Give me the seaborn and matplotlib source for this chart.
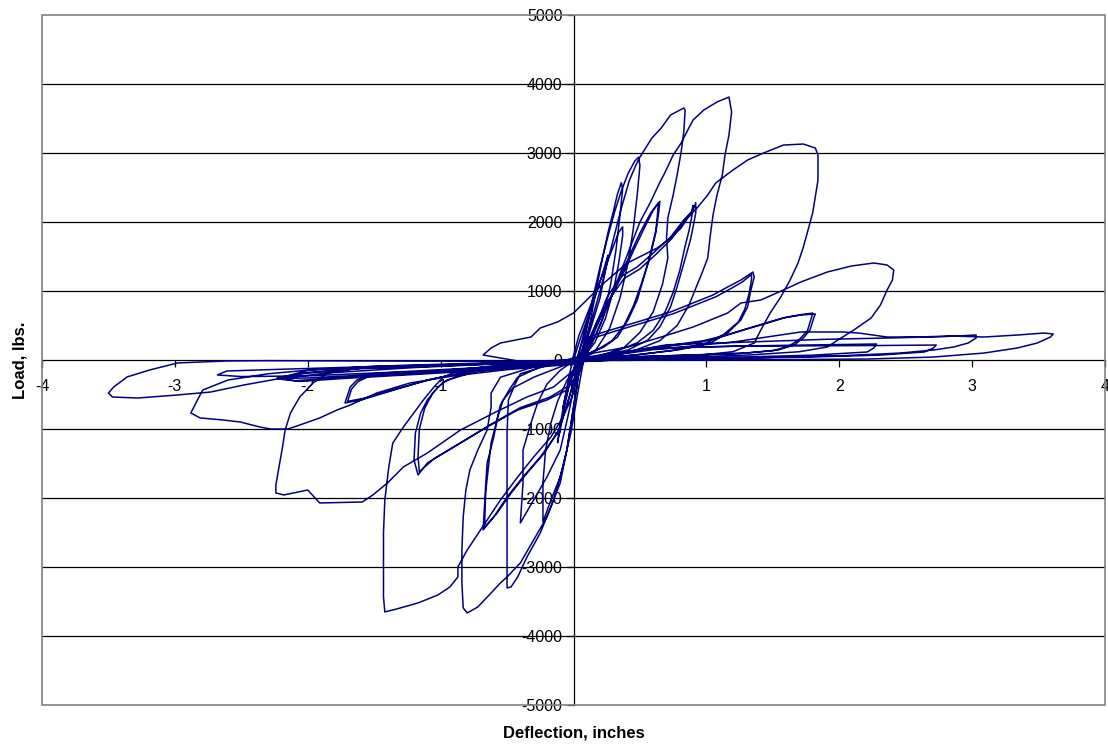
import numpy as np
import pandas as pd
import matplotlib
matplotlib.use("Agg")
import matplotlib.pyplot as plt
from matplotlib.patches import Rectangle
import seaborn as sns

# Cyclic racking test: deflection (in) vs. load (lbs), recorded cycle by cycle.
cycle_a_x = [-0.02, 0.04, 0.10, 0.15, 0.14, 0.08, 0.03, -0.03, -0.08, -0.07, -0.02, 0.03]
cycle_a_y = [-80, 350, 650, 900, 800, 350, 40, -350, -700, -600, -250, 30]

cycle_b_x = [0.03, 0.08, 0.15, 0.21, 0.26, 0.25, 0.20, 0.12, 0.06, -0.02, -0.07, -0.12, -0.11, -0.06, -0.02]
cycle_b_y = [30, 400, 850, 1200, 1520, 1400, 900, 400, 130, -250, -700, -1200, -1050, -500, -120]

cycle_c_x = [-0.02, 0.05, 0.14, 0.22, 0.29, 0.34, 0.37, 0.37, 0.34, 0.30, 0.24, 0.16, 0.09, 0.04,
             -0.05, -0.12, -0.17, -0.21, -0.23, -0.23, -0.17, -0.10, -0.05, -0.01, 0.03, 0.07]
cycle_c_y = [-120, 300, 800, 1250, 1600, 1850, 1930, 1800, 1400, 1000, 600, 250, 80, -20,
             -300, -600, -913, -1304, -1782, -2347, -2029, -1695, -1304, -800, -300, 60]

cycle_d_x = [0.07, 0.11, 0.16, 0.21, 0.26, 0.30, 0.33, 0.36, 0.37, 0.35, 0.32, 0.28, 0.22, 0.14, 0.06, -0.02,
             -0.10, -0.20, -0.27, -0.32, -0.38, -0.38, -0.40, -0.30, -0.20, -0.10, -0.04, 0.01, 0.05]
cycle_d_y = [60, 400, 900, 1400, 1850, 2150, 2400, 2570, 2480, 2100, 1600, 1100, 600, 250, 50, -40,
             -150, -350, -623, -913, -1304, -1782, -2362, -2029, -1695, -1304, -800, -350, 20]

cycle_e_x = [0.05, 0.09, 0.14, 0.20, 0.26, 0.31, 0.36, 0.41, 0.46, 0.49, 0.50, 0.48, 0.45, 0.41, 0.35, 0.27, 0.17, 0.05,
             -0.10, -0.30, -0.45, -0.49, -0.50, -0.50, -0.50, -0.50, -0.47, -0.42, -0.35, -0.25, -0.15, -0.08, -0.02, 0.03, 0.08]
cycle_e_y = [20, 350, 850, 1350, 1800, 2150, 2450, 2700, 2880, 2940, 2820, 2400, 1900, 1400, 900, 450, 150, 20,
             -100, -250, -400, -580, -1058, -1782, -2507, -3304, -3289, -3144, -2854, -2507, -2029, -1550, -1058, -500, 40]

cycle_f_x = [0.08, 0.12, 0.18, 0.28, 0.35, 0.43, 0.50, 0.58, 0.64, 0.63, 0.62, 0.58, 0.53, 0.48, 0.41, 0.33, 0.23, 0.10, 0.00,
             -0.20, -0.40, -0.45, -0.53, -0.57, -0.60, -0.65, -0.66, -0.68, -0.60, -0.50, -0.38, -0.25, -0.12, -0.04, 0.02, 0.06]
cycle_f_y = [40, 300, 580, 910, 1200, 1550, 1840, 2130, 2280, 2070, 1880, 1550, 1200, 870, 580, 330, 190, 80, 30,
             -80, -200, -391, -580, -826, -1116, -1492, -1782, -2463, -2275, -1985, -1695, -1406, -1058, -600, -200, 0]

cycle_f2_x = [0.06, 0.12, 0.20, 0.30, 0.38, 0.46, 0.53, 0.60, 0.65, 0.64, 0.62, 0.57, 0.51, 0.45, 0.38, 0.29, 0.18, 0.05,
              -0.25, -0.42, -0.48, -0.55, -0.58, -0.62, -0.64, -0.66, -0.67, -0.58, -0.47, -0.35, -0.22, -0.10, -0.02, 0.04]
cycle_f2_y = [0, 320, 620, 980, 1280, 1620, 1900, 2170, 2300, 2120, 1850, 1450, 1100, 780, 500, 280, 150, 40,
              -100, -250, -420, -650, -900, -1200, -1550, -1900, -2420, -2230, -1930, -1640, -1350, -980, -450, -60]

cycle_g_x = [0.04, 0.11, 0.20, 0.28, 0.36, 0.42, 0.47, 0.50, 0.59, 0.66, 0.73, 0.83, 0.84, 0.83, 0.81, 0.78, 0.75, 0.71,
             0.70, 0.71, 0.67, 0.60, 0.50, 0.38, 0.20, 0.02,
             -0.30, -0.55, -0.62, -0.62, -0.65, -0.72, -0.78, -0.81, -0.83, -0.84, -0.84, -0.83, -0.80, -0.72, -0.62,
             -0.55, -0.50, -0.40, -0.30, -0.20, -0.10, -0.05, 0.00, 0.04, 0.09]
cycle_g_y = [-60, 400, 1000, 1600, 2200, 2600, 2826, 2941, 3217, 3362, 3550, 3652, 3623, 3304, 3014, 2681, 2391, 2058,
             1768, 1478, 1100, 700, 400, 180, 60, 10,
             -100, -250, -478, -681, -1014, -1304, -1594, -1884, -2275, -2753, -3231, -3593, -3666, -3579, -3376,
             -3231, -3144, -2941, -2608, -2275, -1782, -1304, -700, -200, 50]

cycle_h_x = [0.09, 0.15, 0.25, 0.35, 0.48, 0.60, 0.73, 0.83, 0.90, 0.92, 0.92, 0.90, 0.88, 0.83, 0.78, 0.73, 0.65, 0.56, 0.41, 0.20, 0.00,
             -0.30, -0.70, -0.95, -1.02, -1.10, -1.15, -1.19, -1.20, -1.17, -1.10, -0.90, -0.65, -0.42, -0.20, -0.05, 0.03, 0.08]
cycle_h_y = [50, 400, 900, 1200, 1350, 1550, 1780, 2030, 2170, 2280, 2130, 1930, 1740, 1400, 1060, 770, 480, 290, 145, 60, 0,
             -60, -150, -290, -391, -580, -768, -1058, -1449, -1666, -1492, -1261, -971, -725, -580, -435, -200, 0]

cycle_h2_x = [0.08, 0.16, 0.27, 0.38, 0.50, 0.62, 0.74, 0.83, 0.89, 0.90, 0.89, 0.87, 0.84, 0.80, 0.75, 0.69, 0.60, 0.48, 0.30, 0.05,
              -0.40, -0.80, -0.98, -1.06, -1.12, -1.16, -1.17, -1.16, -1.05, -0.85, -0.62, -0.40, -0.18, -0.04, 0.05]
cycle_h2_y = [0, 420, 880, 1180, 1320, 1530, 1760, 2000, 2150, 2240, 2080, 1880, 1650, 1300, 980, 700, 430, 250, 110, 20,
              -80, -180, -320, -480, -700, -1000, -1400, -1620, -1430, -1200, -930, -690, -540, -380, 0]

cycle_i_x = [0.08, 0.20, 0.32, 0.42, 0.50, 0.58, 0.64, 0.69, 0.75, 0.81, 0.86, 0.90, 0.98, 1.08, 1.17, 1.19, 1.17, 1.14,
             1.12, 1.08, 1.05, 1.03, 1.01, 0.97, 0.93, 0.87, 0.78, 0.65, 0.45, 0.20, -0.10,
             -0.50, -0.85, -0.98, -1.05, -1.13, -1.28, -1.36, -1.39, -1.42, -1.43, -1.43, -1.43, -1.42, -1.33, -1.17,
             -1.02, -0.93, -0.87, -0.87, -0.80, -0.70, -0.55, -0.42, -0.30, -0.17, -0.08, -0.02, 0.03, 0.08]
cycle_i_y = [0, 500, 1100, 1600, 2000, 2290, 2536, 2724, 2970, 3144, 3333, 3478, 3622, 3739, 3811, 3594, 3260, 2970,
             2681, 2391, 2101, 1811, 1478, 1275, 1087, 800, 500, 280, 130, 40, -20,
             -60, -140, -246, -391, -580, -971, -1203, -1550, -2029, -2507, -2999, -3434, -3651, -3608, -3521,
             -3405, -3289, -3144, -2999, -2753, -2463, -2029, -1695, -1406, -1116, -826, -580, -250, 0]

cycle_j_x = [0.08, 0.11, 0.28, 0.53, 0.73, 0.90, 1.05, 1.16, 1.26, 1.35, 1.36, 1.33, 1.31, 1.26, 1.16, 1.03, 0.80, 0.50, 0.20, -0.20,
             -0.60, -1.10, -1.48, -1.63, -1.68, -1.72, -1.60, -1.35, -1.10, -0.85, -0.50, -0.20, 0.05]
cycle_j_y = [0, 333, 435, 580, 696, 826, 942, 1058, 1159, 1275, 1203, 971, 768, 580, 391, 246, 150, 80, 30, -40,
             -100, -170, -188, -290, -391, -623, -580, -435, -290, -188, -120, -60, 0]

cycle_j2_x = [0.05, 0.12, 0.30, 0.55, 0.75, 0.92, 1.07, 1.18, 1.27, 1.34, 1.34, 1.32, 1.29, 1.24, 1.13, 0.98, 0.75, 0.45, 0.15, -0.25,
              -0.70, -1.20, -1.50, -1.62, -1.67, -1.70, -1.58, -1.32, -1.05, -0.80, -0.45, -0.15, 0.05]
cycle_j2_y = [0, 300, 410, 555, 670, 800, 915, 1030, 1130, 1240, 1170, 950, 740, 550, 370, 230, 140, 70, 20, -50,
              -110, -180, -205, -310, -420, -600, -555, -410, -270, -175, -110, -50, 0]

cycle_k_x = [0.05, -0.40, -0.68, -0.62, -0.55, -0.32, -0.25, -0.12, 0.00, 0.10, 0.22, 0.40, 0.63, 0.73, 0.81, 0.86, 0.93,
             1.01, 1.07, 1.20, 1.31, 1.43, 1.58, 1.73, 1.82, 1.84, 1.84, 1.80, 1.73, 1.69, 1.63, 1.56, 1.48, 1.41,
             1.36, 1.20, 0.90, 0.50, 0.00,
             -0.50, -1.00, -1.60, -1.85, -1.96, -2.06, -2.13, -2.17, -2.19, -2.22, -2.24, -2.24, -2.18, -2.00, -1.91,
             -1.59, -1.51, -1.40, -1.28, -1.10, -0.85, -0.60, -0.35, -0.15, 0.00, 0.05]
cycle_k_y = [0, -20, 72, 174, 246, 333, 464, 551, 681, 870, 1100, 1400, 1623, 1768, 1913, 2058, 2203,
             2391, 2565, 2753, 2898, 3000, 3115, 3130, 3072, 2970, 2608, 2130, 1637, 1406, 1159, 913, 681, 435,
             246, 120, 60, 20, -30,
             -40, -80, -116, -188, -333, -536, -768, -1014, -1261, -1594, -1811, -1927, -1956, -1884, -2072,
             -2058, -1956, -1782, -1550, -1348, -1014, -768, -536, -391, -150, 0]

cycle_l_x = [0.05, 0.40, 0.96, 1.11, 1.28, 1.46, 1.58, 1.71, 1.82, 1.81, 1.78, 1.73, 1.66, 1.54, 1.30, 1.00, 0.50, 0.00,
             -0.80, -1.60, -2.00, -2.23, -2.10, -1.80, -1.20, -0.60, 0.00]
cycle_l_y = [0, 120, 261, 333, 435, 536, 609, 652, 667, 623, 435, 319, 217, 145, 100, 80, 50, 0,
             -60, -120, -180, -260, -300, -260, -200, -130, -50]

cycle_l2_x = [0.00, 0.45, 0.98, 1.13, 1.30, 1.47, 1.60, 1.72, 1.80, 1.79, 1.76, 1.70, 1.62, 1.50, 1.25, 0.95, 0.45, 0.00,
              -0.90, -1.65, -2.05, -2.20, -2.05, -1.75, -1.15, -0.55, 0.00]
cycle_l2_y = [-50, 140, 280, 350, 450, 550, 620, 660, 680, 610, 420, 300, 200, 135, 95, 75, 45, 0,
              -70, -130, -200, -280, -310, -270, -205, -135, -40]

cycle_m_x = [0.00, 0.15, 0.41, 0.66, 0.90, 1.16, 1.26, 1.41, 1.58, 1.71, 1.91, 2.09, 2.26, 2.36, 2.41, 2.40, 2.36, 2.31,
             2.24, 2.11, 1.99, 1.91, 1.70, 1.30, 0.80, 0.30,
             -0.50, -1.20, -1.90, -2.30, -2.60, -2.79, -2.83, -2.88, -2.81, -2.64, -2.51, -2.36, -2.28, -2.15, -2.06,
             -1.91, -1.78, -1.68, -1.48, -1.23, -0.90, -0.50, 0.00]
cycle_m_y = [-50, 101, 188, 333, 478, 681, 826, 870, 1014, 1130, 1275, 1362, 1406, 1377, 1304, 1159, 1014, 797,
             609, 435, 290, 188, 120, 70, 40, 10,
             -50, -100, -130, -200, -290, -435, -580, -768, -840, -869, -898, -971, -1000, -1000, -942,
             -840, -725, -652, -478, -333, -230, -140, -60]

cycle_n_x = [0.00, 0.50, 1.00, 1.50, 2.00, 2.28, 2.26, 2.21, 1.80, 1.20, 0.50, 0.00,
             -0.80, -1.60, -2.30, -2.61, -2.68, -2.50, -2.00, -1.40, -0.70, 0.00]
cycle_n_y = [-30, 150, 190, 210, 225, 232, 174, 116, 70, 40, 10, -20,
             -60, -100, -140, -160, -217, -240, -230, -180, -110, -40]

cycle_o_x = [0.00, 0.60, 1.20, 1.80, 2.30, 2.73, 2.71, 2.64, 2.30, 1.70, 1.00, 0.30,
             -0.80, -1.50, -2.00, -2.23, -2.00, -1.40, -0.70, 0.00]
cycle_o_y = [-30, 170, 200, 205, 210, 217, 174, 116, 70, 40, 20, 0,
             -50, -90, -150, -270, -260, -200, -120, -40]

cycle_p_x = [0.00, 0.70, 1.30, 1.90, 2.40, 2.80, 3.03, 3.03, 2.97, 2.86, 2.71, 2.46, 2.00, 1.30, 0.50,
             -0.50, -1.50, -2.30, -2.61, -2.98, -3.19, -3.36, -3.46, -3.50, -3.47, -3.28, -2.98, -2.73,
             -2.48, -2.23, -1.85, -1.20, -0.50, 0.00]
cycle_p_y = [-20, 220, 260, 300, 320, 340, 362, 319, 246, 188, 145, 101, 60, 30, 5,
             -20, -15, -10, -14, -43, -145, -246, -391, -478, -536, -551, -507, -464,
             -362, -275, -188, -110, -50, -10]

cycle_q_x = [0.00, 0.60, 1.20, 1.71, 2.03, 2.15, 2.36, 2.59, 2.84, 3.09, 3.34, 3.54, 3.61, 3.59, 3.49, 3.34,
             3.09, 2.71, 2.21, 1.50, 0.80, 0.00]
cycle_q_y = [-10, 150, 260, 406, 406, 390, 333, 333, 348, 333, 362, 391, 377, 333, 246, 174,
             101, 43, 14, 5, 0, -10]

cycles = [
    ("a", cycle_a_x, cycle_a_y), ("b", cycle_b_x, cycle_b_y), ("c", cycle_c_x, cycle_c_y),
    ("d", cycle_d_x, cycle_d_y), ("e", cycle_e_x, cycle_e_y), ("f", cycle_f_x, cycle_f_y),
    ("f2", cycle_f2_x, cycle_f2_y), ("g", cycle_g_x, cycle_g_y), ("h", cycle_h_x, cycle_h_y),
    ("h2", cycle_h2_x, cycle_h2_y), ("i", cycle_i_x, cycle_i_y), ("j", cycle_j_x, cycle_j_y),
    ("j2", cycle_j2_x, cycle_j2_y), ("k", cycle_k_x, cycle_k_y), ("l", cycle_l_x, cycle_l_y),
    ("l2", cycle_l2_x, cycle_l2_y), ("m", cycle_m_x, cycle_m_y), ("n", cycle_n_x, cycle_n_y),
    ("o", cycle_o_x, cycle_o_y), ("p", cycle_p_x, cycle_p_y), ("q", cycle_q_x, cycle_q_y),
]

# one continuous test record
xs, ys = [], []
for _, cx, cy in cycles:
    xs.extend(cx)
    ys.extend(cy)
df = pd.DataFrame({"step": np.arange(len(xs)), "deflection": xs, "load": ys})

sns.set_style("white")
plt.rcParams["font.family"] = ["Liberation Sans", "DejaVu Sans"]
plt.rcParams["axes.unicode_minus"] = False
plt.rcParams["text.color"] = "black"
plt.rcParams["axes.labelcolor"] = "black"

fig = plt.figure(figsize=(11.08, 7.49), dpi=100)
ax = fig.add_axes([42 / 1108, 44 / 749, 1063 / 1108, 690 / 749])

ax.set_xlim(-4, 4)
ax.set_ylim(-5000, 5000)
ax.set_xticks(range(-4, 5))
ax.set_yticks(range(-5000, 5001, 1000))

for v in range(-4000, 5000, 1000):
    if v != 0:
        ax.axhline(v, color="black", lw=0.9, zorder=1)

sns.lineplot(data=df, x="deflection", y="load", sort=False, estimator=None,
             color="#000080", lw=1.1, ax=ax, legend=False, zorder=3)

# axes crossing at the origin
for side in ("top", "right"):
    ax.spines[side].set_visible(False)
ax.spines["left"].set_position(("data", 0))
ax.spines["bottom"].set_position(("data", 0))
for side in ("left", "bottom"):
    ax.spines[side].set_color("black")
    ax.spines[side].set_linewidth(0.9)
    ax.spines[side].set_zorder(2)

ax.tick_params(axis="both", direction="out", length=5, width=0.9, color="black",
               labelsize=11.5, labelcolor="black")
ax.tick_params(axis="x", pad=9)
ax.tick_params(axis="y", pad=3)
ax.xaxis.set_ticks_position("bottom")
ax.yaxis.set_ticks_position("left")

# plot-area frame
ax.add_patch(Rectangle((0, 0), 1, 1, transform=ax.transAxes, fill=False,
                       edgecolor="#808080", lw=1.2, zorder=5, clip_on=False))

ax.set_xlabel("Deflection, inches", fontsize=12, fontweight="bold", color="black")
ax.set_ylabel("Load, lbs.", fontsize=12, fontweight="bold", color="black")
ax.xaxis.set_label_coords(0.5, -0.030)
ax.yaxis.set_label_coords(-0.014, 0.5)

fig.savefig("out.png", dpi=100)
